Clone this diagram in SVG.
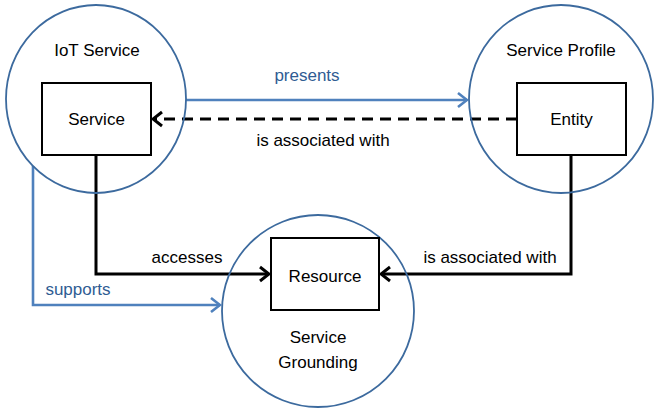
<svg xmlns="http://www.w3.org/2000/svg" width="655" height="410" viewBox="0 0 655 410">
  <defs>
    <style>
      .domain { fill: none; stroke: #3C6A9E; stroke-width: 1.8; }
      .box { fill: #ffffff; stroke: #000000; stroke-width: 2; }
      .lbl { font-family: "Liberation Sans", Arial, sans-serif; font-size: 17px; fill: #000000; text-anchor: middle; }
      .blue-lbl { fill: #2F5C93; }
      .link-black { fill: none; stroke: #000000; stroke-width: 3; }
      .link-blue { fill: none; stroke: #4F81BD; stroke-width: 2.6; }
      .dashed { stroke-dasharray: 11 7; }
    </style>
    <marker id="head-black" markerUnits="userSpaceOnUse" viewBox="-12 -9 14 18" refX="0" refY="0" markerWidth="14" markerHeight="18" orient="auto">
      <path d="M -9 -7 L 0 0 L -9 7" fill="none" stroke="#000000" stroke-width="3"/>
    </marker>
    <marker id="head-blue" markerUnits="userSpaceOnUse" viewBox="-12 -9 14 18" refX="0" refY="0" markerWidth="14" markerHeight="18" orient="auto">
      <path d="M -9 -7 L 0 0 L -9 7" fill="none" stroke="#4F81BD" stroke-width="2.6"/>
    </marker>
  </defs>

  <rect width="655" height="410" fill="#ffffff"/>

  <!-- connectors -->
  <g id="connectors">
    <path class="link-blue" d="M 186 100 L 467 100" marker-end="url(#head-blue)"/>
    <path class="link-black dashed" d="M 517 119 L 153 119" marker-end="url(#head-black)"/>
    <path class="link-black" d="M 96 155 L 96 274 L 269 274" marker-end="url(#head-black)"/>
    <path class="link-blue" d="M 33 166 L 33 305 L 220 305" marker-end="url(#head-blue)"/>
    <path class="link-black" d="M 571 155 L 571 274 L 381 274" marker-end="url(#head-black)"/>
    <text class="lbl blue-lbl" x="307" y="81">presents</text>
    <text class="lbl" x="323" y="146">is associated with</text>
    <text class="lbl" x="187" y="263">accesses</text>
    <text class="lbl blue-lbl" x="78" y="295">supports</text>
    <text class="lbl" x="490" y="263">is associated with</text>
  </g>

  <!-- IoT Service domain -->
  <g id="iot-service">
    <ellipse class="domain" cx="96" cy="99" rx="90" ry="94"/>
    <text class="lbl" x="97" y="56">IoT Service</text>
  </g>
  <g id="service">
    <rect class="box" x="42" y="83" width="109" height="72"/>
    <text class="lbl" x="96.5" y="125">Service</text>
  </g>

  <!-- Service Profile domain -->
  <g id="service-profile">
    <ellipse class="domain" cx="561" cy="99" rx="92" ry="94"/>
    <text class="lbl" x="561" y="56">Service Profile</text>
  </g>
  <g id="entity">
    <rect class="box" x="517" y="83" width="109" height="72"/>
    <text class="lbl" x="571.5" y="125">Entity</text>
  </g>

  <!-- Service Grounding domain -->
  <g id="service-grounding">
    <ellipse class="domain" cx="318" cy="311" rx="96" ry="96"/>
    <text class="lbl" x="318" y="343">Service</text>
    <text class="lbl" x="318" y="368">Grounding</text>
  </g>
  <g id="resource">
    <rect class="box" x="271" y="238" width="108" height="72"/>
    <text class="lbl" x="325" y="282">Resource</text>
  </g>
</svg>
